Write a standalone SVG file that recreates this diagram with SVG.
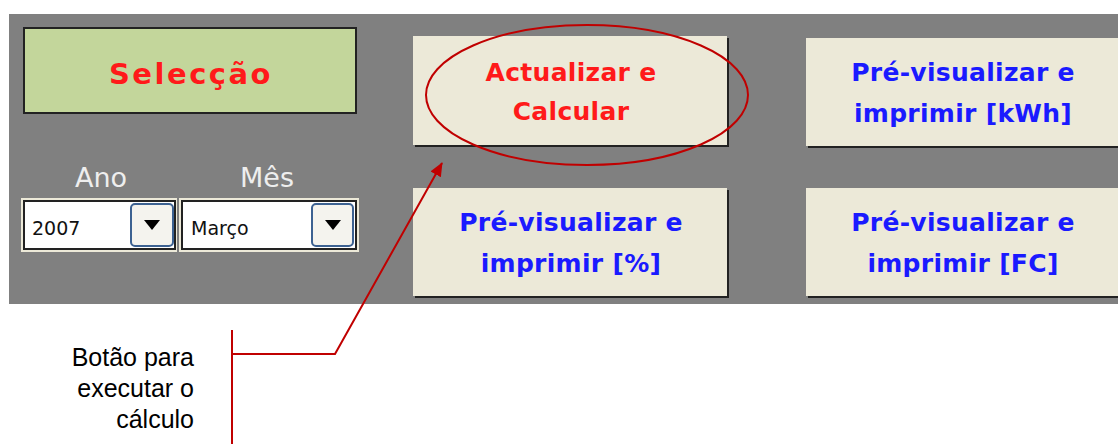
<svg xmlns="http://www.w3.org/2000/svg" width="1118" height="444" viewBox="0 0 1118 444">
<defs>
<marker id="ah" markerWidth="14" markerHeight="12" refX="13" refY="6" orient="auto" markerUnits="userSpaceOnUse">
<path d="M0,0 L14,6 L0,12 z" fill="#c00000"/>
</marker>
</defs>
<style>
.btn{fill:#ece9d8;stroke:none}
.bt{font-family:"DejaVu Sans",sans-serif;font-weight:bold;font-size:25px;text-anchor:middle;letter-spacing:0.3px}
.blue{fill:#1a1aff}
.red{fill:#ff1a1a}
.lbl{font-family:"Liberation Sans",Arial,sans-serif;font-size:25px;text-anchor:end;fill:#000}
.dd{font-family:"DejaVu Sans",sans-serif;font-size:19px;fill:#111}
.hdr{font-family:"DejaVu Sans",sans-serif;font-size:27px;fill:#eeeeee;text-anchor:middle}
</style>
<rect x="9" y="14" width="1109" height="290" fill="#808080"/>
<g id="selecao">
<rect x="24" y="28" width="332" height="85" fill="#c3d69b" stroke="#222" stroke-width="2"/>
<text x="191" y="84" text-anchor="middle" font-family="'DejaVu Sans',sans-serif" font-weight="bold" font-size="29" letter-spacing="2.5" fill="#ff1a1a">Selecção</text>
</g>
<g id="ano">
<text class="hdr" x="101" y="187">Ano</text>
<rect x="21" y="198" width="156" height="54" fill="#ece9d8"/>
<rect x="24" y="201" width="151" height="48" fill="#fff" stroke="#222" stroke-width="2"/>
<text class="dd" x="32" y="235">2007</text>
<rect x="131" y="204" width="42" height="42" rx="4" fill="#f4f3ee" stroke="#3c6191" stroke-width="2"/>
<path d="M144,220 L160,220 L152,230 z" fill="#000"/>
</g>
<g id="mes">
<text class="hdr" x="267" y="187">Mês</text>
<rect x="179" y="198" width="180" height="54" fill="#ece9d8"/>
<rect x="182" y="201" width="174" height="48" fill="#fff" stroke="#222" stroke-width="2"/>
<text class="dd" x="191" y="235">Março</text>
<rect x="312" y="204" width="41" height="42" rx="4" fill="#f4f3ee" stroke="#3c6191" stroke-width="2"/>
<path d="M325,220 L341,220 L333,230 z" fill="#000"/>
</g>
<g id="btn-actualizar">
<rect x="415" y="38" width="314" height="109" fill="#222"/>
<rect x="413" y="36" width="314" height="109" class="btn" stroke="#fff" stroke-width="1"/>
<text class="bt red" x="571" y="81">Actualizar e</text>
<text class="bt red" x="571" y="120">Calcular</text>
</g>
<g id="btn-kwh">
<rect x="808" y="40" width="312" height="108" fill="#222"/>
<rect x="806" y="38" width="312" height="108" class="btn" stroke="#fff" stroke-width="1"/>
<text class="bt blue" x="963" y="81">Pré-visualizar e</text>
<text class="bt blue" x="963" y="122">imprimir [kWh]</text>
</g>
<g id="btn-pct">
<rect x="415" y="190" width="314" height="108" fill="#222"/>
<rect x="413" y="188" width="314" height="108" class="btn" stroke="#fff" stroke-width="1"/>
<text class="bt blue" x="571" y="231">Pré-visualizar e</text>
<text class="bt blue" x="571" y="272">imprimir [%]</text>
</g>
<g id="btn-fc">
<rect x="808" y="190" width="312" height="108" fill="#222"/>
<rect x="806" y="188" width="312" height="108" class="btn" stroke="#fff" stroke-width="1"/>
<text class="bt blue" x="963" y="231">Pré-visualizar e</text>
<text class="bt blue" x="963" y="272">imprimir [FC]</text>
</g>
<g id="highlight">
<ellipse cx="587" cy="95" rx="161" ry="70" fill="none" stroke="#c00000" stroke-width="2"/>
</g>
<g id="callout-label">
<text class="lbl" x="194" y="366">Botão para</text>
<text class="lbl" x="194" y="397">executar o</text>
<text class="lbl" x="194" y="428">cálculo</text>
</g>
<g id="connectors" fill="none" stroke="#c00000" stroke-width="2">
<line x1="232" y1="330" x2="232" y2="444"/>
<polyline points="232,354 335,354 442,163" marker-end="url(#ah)"/>
</g>
</svg>
